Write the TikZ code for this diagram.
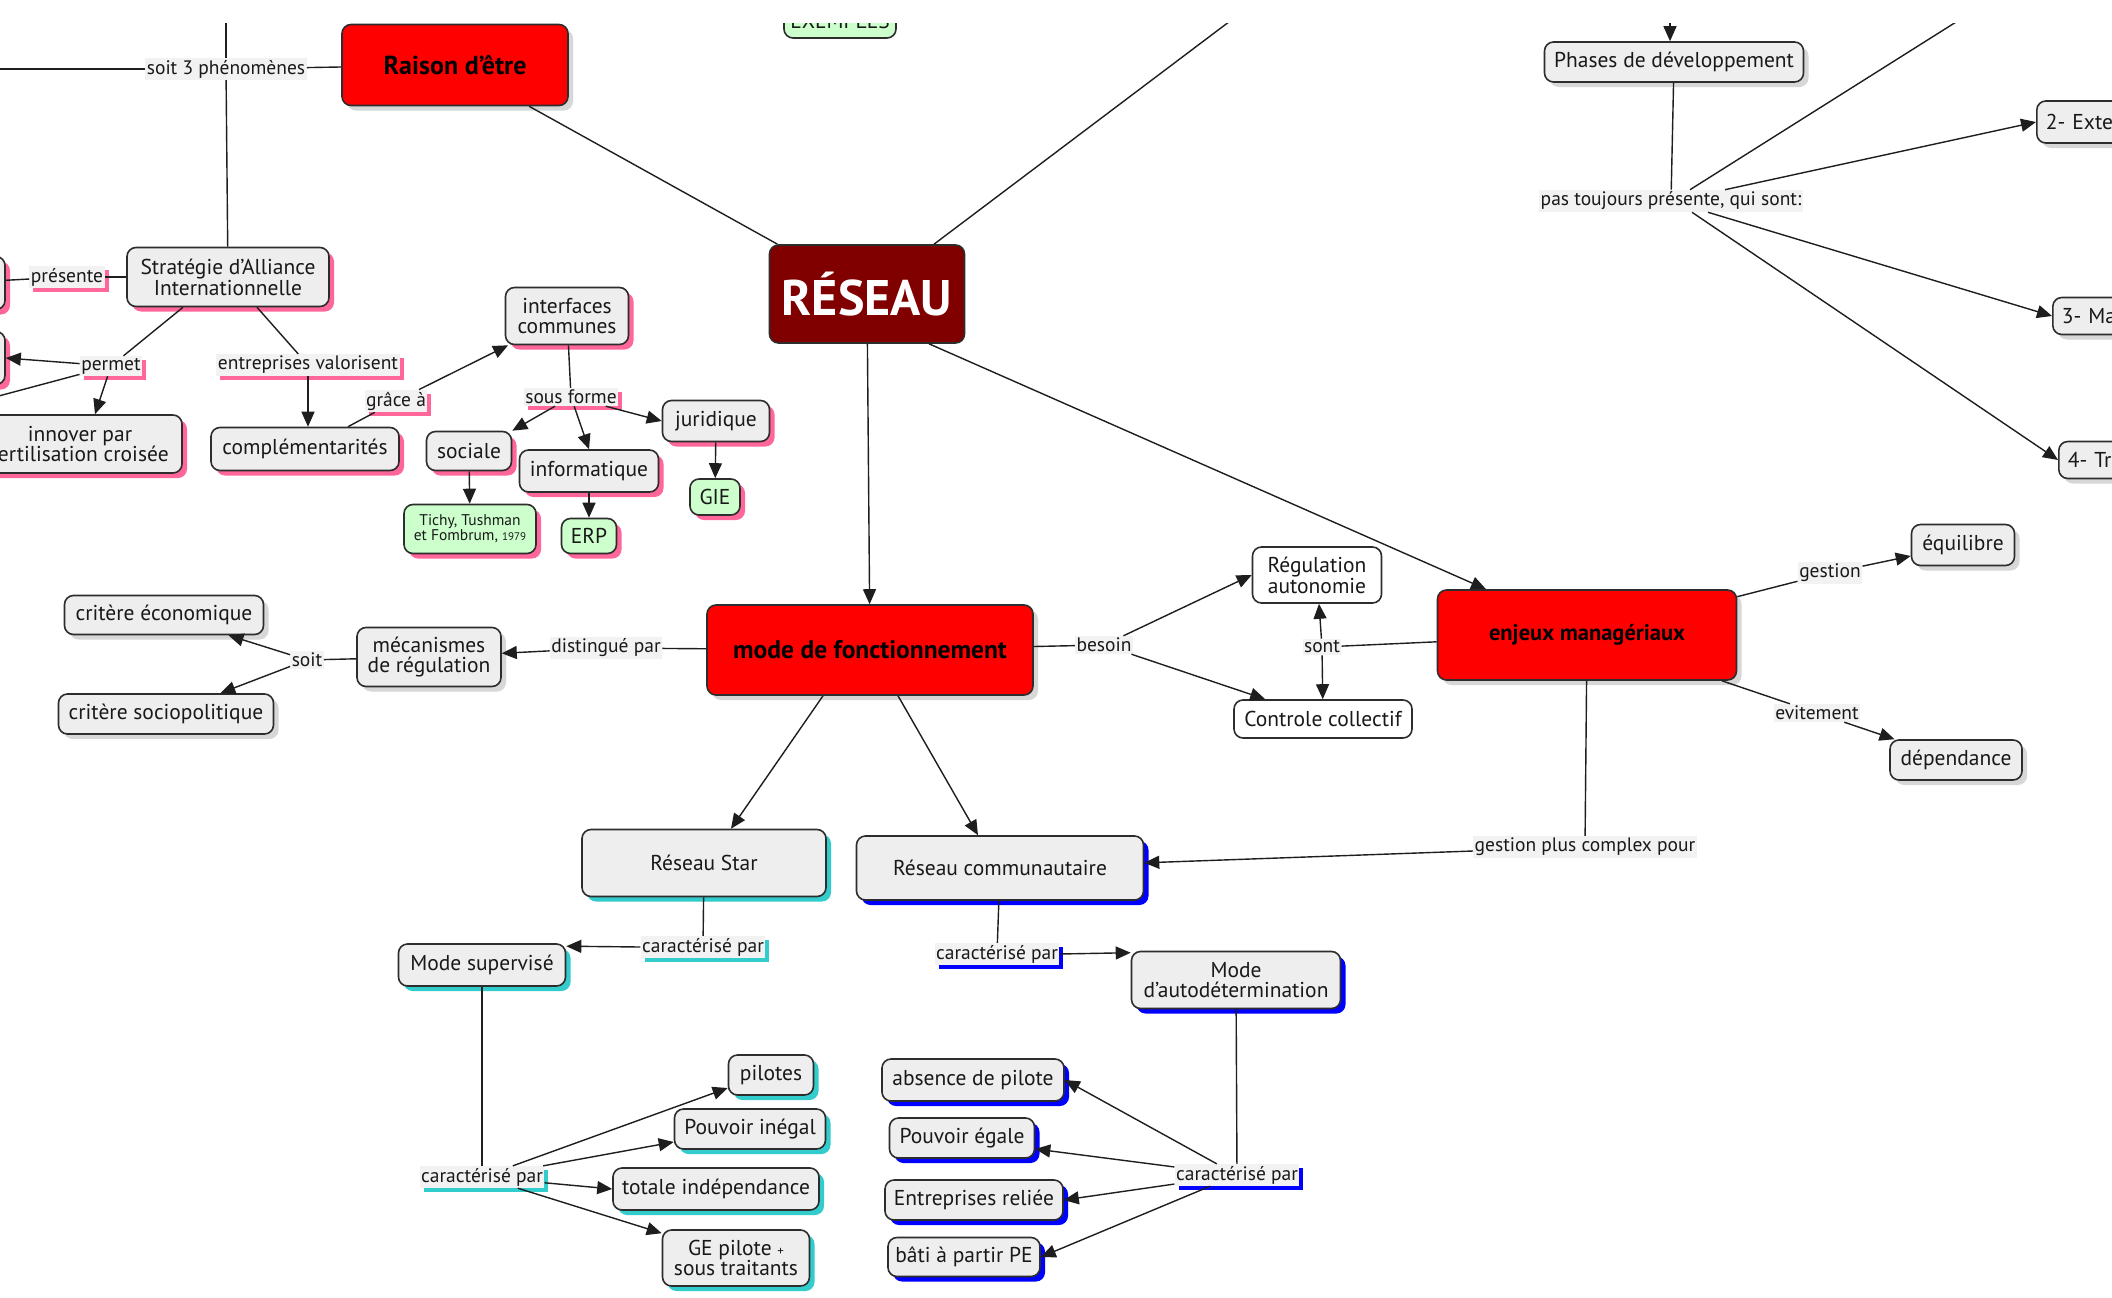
\documentclass[tikz,border=0pt]{standalone}
\usepackage{fontspec}
\setmainfont{PT Sans}
\usetikzlibrary{arrows.meta,shadows}
\definecolor{cgray}{RGB}{238,238,238}
\definecolor{lbg}{RGB}{242,242,242}
\definecolor{bord}{RGB}{45,45,45}
\definecolor{txt}{RGB}{25,25,25}
\definecolor{lin}{RGB}{30,30,30}
\definecolor{pinkS}{RGB}{255,102,153}
\definecolor{tealS}{RGB}{51,204,204}
\definecolor{blueS}{RGB}{0,0,255}
\definecolor{grayS}{RGB}{215,215,215}
\definecolor{greenF}{RGB}{204,255,204}
\definecolor{redF}{RGB}{255,0,0}
\definecolor{darkredF}{RGB}{128,0,0}
\newcommand\fsC{\fontsize{21.5}{19.5}\selectfont}
\newcommand\fsL{\fontsize{19.5}{21}\selectfont}
\newcommand\fsB{\fontsize{22.5}{24}\selectfont\bfseries}
\begin{document}
\begin{tikzpicture}[x=1pt,y=-1pt,
  base/.style={draw=bord, line width=1.6pt, rounded corners=9pt, inner sep=2pt, align=center, text=txt},
  concept/.style={base, fill=cgray, font=\fsC},
  redbox/.style={base, fill=redF, font=\fsB, text=black},
  greenbox/.style={base, fill=greenF, font=\fsC},
  whitebox/.style={base, fill=white, font=\fsC},
  sz/.style 2 args={minimum width=#1, minimum height=#2},
  pinksh/.style={drop shadow={shadow xshift=5pt,shadow yshift=-5pt,fill=pinkS,opacity=1}},
  tealsh/.style={drop shadow={shadow xshift=5pt,shadow yshift=-5pt,fill=tealS,opacity=1}},
  bluesh/.style={drop shadow={shadow xshift=5pt,shadow yshift=-5pt,fill=blueS,opacity=1}},
  graysh/.style={drop shadow={shadow xshift=5pt,shadow yshift=-5pt,fill=grayS,opacity=1}},
  lab/.style={fill=lbg, font=\fsL, inner xsep=1.5pt, inner ysep=2pt, text=txt},
  lpink/.style={lab, drop shadow={shadow xshift=4pt,shadow yshift=-4pt,fill=pinkS,opacity=1}},
  lteal/.style={lab, drop shadow={shadow xshift=4pt,shadow yshift=-4pt,fill=tealS,opacity=1}},
  lblue/.style={lab, drop shadow={shadow xshift=4pt,shadow yshift=-4pt,fill=blueS,opacity=1}},
  conn/.style={line width=1.4pt, draw=lin},
  arr/.style={conn, -{Triangle[length=15pt,width=13pt]}},
]
\useasboundingbox (0,0) rectangle (2112,1298);
\fill[white] (0,0) rectangle (2112,1298);
\clip (0,24) rectangle (2112,1298);

% ---------- free ends ----------
\coordinate (cL1) at (-20,69);
\coordinate (cT1) at (226,0);
\coordinate (cL2) at (-20,401);
\coordinate (cT2) at (1258,0);
\coordinate (cT3) at (1670,0);
\coordinate (cT4) at (1991,0);

% ---------- concepts ----------
\node[redbox, graysh, sz={226}{81}, font=\fontsize{26}{28}\selectfont\bfseries] (raison) at (455,65) {Raison d’être};
\node[concept, pinksh, sz={202}{59}] (strat) at (228,277) {Stratégie d’Alliance\\Internationnelle};
\node[concept, pinksh, sz={100}{53}] (cutA) at (-45,283) {};
\node[concept, pinksh, sz={100}{53}] (cutB) at (-45,358) {};
\node[concept, pinksh, sz={204}{58}] (innover) at (80,444) {innover par\\fertilisation croisée};
\node[concept, pinksh, sz={188}{43}] (compl) at (305,449) {complémentarités};
\node[concept, pinksh, sz={123}{57}] (interf) at (567,316) {interfaces\\communes};
\node[concept, pinksh, sz={85}{39}] (sociale) at (469,451) {sociale};
\node[concept, pinksh, sz={139}{42}] (informatique) at (589,471) {informatique};
\node[concept, pinksh, sz={107}{41}] (juridique) at (716,421) {juridique};
\node[greenbox, pinksh, sz={50}{36}] (gie) at (715,497) {GIE};
\node[greenbox, pinksh, sz={55}{35}] (erp) at (589,536) {ERP};
\node[greenbox, pinksh, sz={132}{49}, font=\fontsize{15.5}{15}\selectfont] (tichy) at (470,529) {Tichy, Tushman\\et Fombrum, {\fontsize{11}{12}\selectfont 1979}};
\node[greenbox, sz={112}{34}] (exemples) at (840,21) {EXEMPLES};
\node[base, fill=darkredF, text=white, font=\fontsize{50}{54}\selectfont\bfseries, sz={195}{98}] (reseau) at (867,294) {RÉSEAU};
\node[redbox, graysh, sz={326}{90}, font=\fontsize{25.5}{27}\selectfont\bfseries] (mode) at (870,650) {mode de fonctionnement};
\node[concept, graysh, sz={144}{59}] (meca) at (429,657) {mécanismes\\de régulation};
\node[concept, graysh, sz={199}{39}] (critEco) at (164,615) {critère économique};
\node[concept, graysh, sz={215}{40}] (critSocio) at (166,714) {critère sociopolitique};
\node[whitebox, sz={129}{56}] (regul) at (1317,575) {Régulation\\autonomie};
\node[whitebox, sz={178}{38}] (controle) at (1323,719) {Controle collectif};
\node[redbox, graysh, sz={299}{90}] (enjeux) at (1587,635) {enjeux managériaux};
\node[concept, graysh, sz={103}{41}] (equilibre) at (1963,545) {équilibre};
\node[concept, graysh, sz={132}{40}] (dependance) at (1956,760) {dépendance};
\node[concept, tealsh, sz={244}{67}] (star) at (704,863) {Réseau Star};
\node[concept, bluesh, sz={287}{64}] (comm) at (1000,868) {Réseau communautaire};
\node[concept, tealsh, sz={167}{42}] (supervise) at (482,965) {Mode supervisé};
\node[concept, tealsh, sz={85}{40}] (pilotes) at (771,1075) {pilotes};
\node[concept, tealsh, sz={151}{40}] (inegal) at (750,1129) {Pouvoir inégal};
\node[concept, tealsh, sz={206}{42}] (totale) at (716,1189) {totale indépendance};
\node[concept, tealsh, sz={147}{56}] (ge) at (736,1258) {GE pilote {\fontsize{13}{14}\selectfont +}\\sous traitants};
\node[concept, bluesh, sz={209}{57}] (autodet) at (1236,980) {Mode\\d’autodétermination};
\node[concept, bluesh, sz={182}{42}] (absence) at (973,1080) {absence de pilote};
\node[concept, bluesh, sz={145}{40}] (egale) at (962,1138) {Pouvoir égale};
\node[concept, bluesh, sz={178}{40}] (reliee) at (974,1200) {Entreprises reliée};
\node[concept, bluesh, sz={152}{39}] (bati) at (964,1257) {bâti à partir PE};
\node[concept, graysh, sz={259}{40}] (phases) at (1674,62) {Phases de développement};
\node[concept, graysh, anchor=west, minimum height=42, text width=190pt, inner xsep=9pt, align=left] (ext2) at (2036,122) {2- Exte};
\node[concept, graysh, anchor=west, minimum height=37, text width=190pt, inner xsep=9pt, align=left] (ma3) at (2052,316) {3- Ma};
\node[concept, graysh, anchor=west, minimum height=37, text width=190pt, inner xsep=9pt, align=left] (tra4) at (2058,460) {4- Tra};

% ---------- linking phrases ----------
\node[lab] (soit3) at (226,69) {soit 3 phénomènes};
\node[lpink] (presente) at (67,277) {présente};
\node[lpink] (permet) at (111,366) {permet};
\node[lpink] (entrep) at (308,365) {entreprises valorisent};
\node[lpink] (grace) at (396,401) {grâce à};
\node[lpink] (sousforme) at (571,397) {sous forme};
\node[lab] (distingue) at (606,648) {distingué par};
\node[lab] (soitl) at (307,660) {soit};
\node[lab] (besoin) at (1104,645) {besoin};
\node[lab] (sont) at (1322,647) {sont};
\node[lab] (gestion) at (1830,573) {gestion};
\node[lab] (evitement) at (1817,713) {evitement};
\node[lab] (gpc) at (1585,847) {gestion plus complex pour};
\node[lteal] (carStar) at (703,947) {caractérisé par};
\node[lteal] (carSup) at (482,1177) {caractérisé par};
\node[lblue] (carComm) at (997,954) {caractérisé par};
\node[lblue] (carAuto) at (1237,1175) {caractérisé par};
\node[lab] (pas) at (1671,201) {pas toujours présente, qui sont:};

% ---------- connectors ----------
\draw[conn] (cL1) -- (soit3);
\draw[conn] (soit3) -- (raison);
\draw[conn] (cT1) -- (soit3);
\draw[conn] (soit3) -- (strat);
\draw[conn] (raison) -- (reseau);
\draw[conn] ([xshift=67pt]reseau.north) -- (cT2);
\draw[arr] (reseau) -- (mode);
\draw[arr] ([xshift=62pt]reseau.south) -- ([xshift=-101pt]enjeux.north);

\draw[conn] (cutA) -- (presente);
\draw[conn] (presente) -- (strat);
\draw[conn] ([xshift=-45pt]strat.south) -- (permet);
\draw[arr] (permet) -- (cutB.east);
\draw[conn] (permet) -- (cL2);
\draw[arr] (permet) -- ([xshift=15pt]innover.north);
\draw[conn] ([xshift=29pt]strat.south) -- (entrep);
\draw[arr] (entrep.south) -- (entrep.south |- compl.north);
\draw[conn] ([xshift=43pt]compl.north) -- (grace);
\draw[arr] (grace) -- (interf);
\draw[conn] (interf) -- (sousforme);
\draw[arr] (sousforme) -- (sociale.north east);
\draw[arr] (sousforme) -- (informatique.north);
\draw[arr] (sousforme) -- (juridique.west);
\draw[arr] (sociale) -- (tichy);
\draw[arr] (informatique) -- (erp);
\draw[arr] (juridique) -- (gie);

\draw[conn] (mode) -- (distingue);
\draw[arr] (distingue) -- (meca);
\draw[conn] (meca) -- (soitl);
\draw[arr] (soitl) -- (critEco);
\draw[arr] (soitl) -- (critSocio);

\draw[conn] (mode) -- (besoin);
\draw[arr] (besoin) -- (regul.west);
\draw[arr] (besoin) -- ([xshift=32pt]controle.north west);
\draw[arr] (sont) -- (regul);
\draw[arr] (sont) -- (controle);
\draw[conn] (sont) -- (enjeux);

\draw[conn] (enjeux) -- (gestion);
\draw[arr] (gestion) -- (equilibre);
\draw[conn] (enjeux) -- (evitement);
\draw[arr] (evitement) -- (dependance);
\draw[conn] (enjeux) -- (gpc);
\draw[arr] (gpc) -- (comm);

\draw[arr] ([xshift=-47pt]mode.south) -- ([xshift=27pt]star.north);
\draw[arr] ([xshift=28pt]mode.south) -- ([xshift=-22pt]comm.north);

\draw[conn] (star) -- (carStar);
\draw[arr] (carStar.west) -- ([yshift=-3pt]supervise.north east);
\draw[conn] (supervise) -- (carSup);
\draw[arr] (carSup) -- ([yshift=-13pt]pilotes.west);
\draw[arr] (carSup) -- ([yshift=-13pt]inegal.west);
\draw[arr] (carSup) -- (totale.west);
\draw[arr] (carSup) -- ([yshift=-4pt]ge.north west);

\draw[conn] (comm) -- (carComm);
\draw[arr] (carComm.east) -- ([yshift=-2pt]autodet.north west);
\draw[conn] (autodet) -- (carAuto);
\draw[arr] (carAuto) -- (absence.east);
\draw[arr] (carAuto) -- ([yshift=-11pt]egale.east);
\draw[arr] (carAuto) -- (reliee.east);
\draw[arr] (carAuto) -- (bati.east);

\draw[arr] (cT3) -- (cT3 |- phases.north);
\draw[conn] (phases) -- (pas);
\draw[conn] ([xshift=19pt]pas.north) -- (cT4);
\draw[arr] ([xshift=54pt]pas.north) -- (ext2.west);
\draw[arr] ([xshift=37pt]pas.south) -- (ma3.west);
\draw[arr] ([xshift=21pt]pas.south) -- (tra4.west);
\end{tikzpicture}
\end{document}
